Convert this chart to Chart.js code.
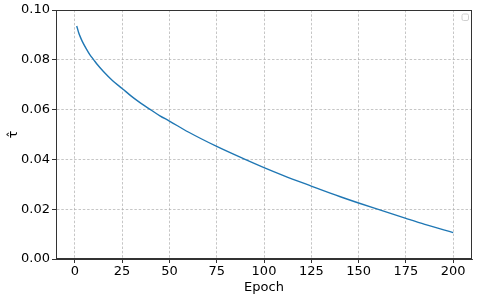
<!DOCTYPE html>
<html>
<head>
<meta charset="utf-8">
<script src="https://cdn.jsdelivr.net/npm/chart.js@4.4.1/dist/chart.umd.min.js"></script>
<style>
  html, body { margin: 0; padding: 0; background: #fff; }
  #wrap { width: 478px; height: 298px; position: relative; }
</style>
</head>
<body>
<div id="wrap"><canvas id="c" width="478" height="298"></canvas></div>
<script>
// Values
const epochs = [1, 2, 3, 4, 6, 8, 10, 12, 15, 20, 25, 30, 35, 40, 45, 50, 60, 75, 90, 100, 110, 125, 140, 150, 160, 175, 185, 200];
const tauHat = [0.0936, 0.0910, 0.0890, 0.0873, 0.0845, 0.0820, 0.0800, 0.0780, 0.0754, 0.0716, 0.0685, 0.0653, 0.0625, 0.0600, 0.0575, 0.0554, 0.0510, 0.0452, 0.0400, 0.0367, 0.0336, 0.0293, 0.0251, 0.0225, 0.0200, 0.0163, 0.0139, 0.0106];
const xTicks = [0, 25, 50, 75, 100, 125, 150, 175, 200];
const yTicks = [0.00, 0.02, 0.04, 0.06, 0.08, 0.10];
const xTitle = 'Epoch';
const yTitle = 'τ\u0302';

const FONT = 'DejaVu Sans';
const gridColor = 'rgba(176,176,176,0.9)';

const frame = {
  id: 'frame',
  afterDraw(chart) {
    const a = chart.chartArea, ctx = chart.ctx;
    ctx.save();
    ctx.strokeStyle = '#333';
    ctx.lineWidth = 1;
    ctx.strokeRect(Math.round(a.left) + 0.5, Math.round(a.top) + 0.5,
                   Math.round(a.right - a.left) - 1, Math.round(a.bottom - a.top) - 1);
    // empty legend frame (upper right)
    const s = 6.5, x = a.right - 10, y = a.top + 4;
    ctx.strokeStyle = '#d0d0d0';
    ctx.fillStyle = 'rgba(255,255,255,0.8)';
    ctx.beginPath();
    if (ctx.roundRect) ctx.roundRect(x, y, s, s, 1.5); else ctx.rect(x, y, s, s);
    ctx.fill();
    ctx.stroke();
    ctx.restore();
  }
};

new Chart(document.getElementById('c'), {
  type: 'line',
  data: {
    datasets: [{
      data: epochs.map((e, i) => ({ x: e, y: tauHat[i] })),
      borderColor: '#1f77b4',
      borderWidth: 1.4,
      pointRadius: 0,
      fill: false,
      cubicInterpolationMode: 'monotone'
    }]
  },
  options: {
    responsive: false,
    animation: false,
    devicePixelRatio: 1,
    layout: { padding: { left: 3, right: 6, top: 10, bottom: 0 } },
    plugins: { legend: { display: false }, tooltip: { enabled: false } },
    scales: {
      x: {
        type: 'linear',
        min: -9.95,
        max: 209.95,
        afterBuildTicks(scale) { scale.ticks = xTicks.map(v => ({ value: v })); },
        afterFit(scale) { scale.height = 39; },
        ticks: {
          font: { family: FONT, size: 13 },
          color: '#000',
          padding: 1,
          maxRotation: 0,
          autoSkip: false,
          callback: v => String(v)
        },
        grid: { color: gridColor, lineWidth: 0.8, tickLength: 4, tickColor: '#333', tickWidth: 1, drawOnChartArea: true },
        border: { display: true, color: '#333', width: 1, dash: [2.5, 1.8] },
        title: { display: true, text: xTitle, font: { family: FONT, size: 13 }, color: '#000', padding: { top: 0, bottom: 3 } }
      },
      y: {
        min: 0,
        max: 0.1,
        afterBuildTicks(scale) { scale.ticks = yTicks.map(v => ({ value: v })); },
        afterFit(scale) { scale.width = 53; },
        ticks: {
          font: { family: FONT, size: 13 },
          color: '#000',
          padding: 2,
          callback: v => Number(v).toFixed(2)
        },
        grid: { color: gridColor, lineWidth: 0.8, tickLength: 4, tickColor: '#333', tickWidth: 1 },
        border: { display: true, color: '#333', width: 1, dash: [2.5, 1.8] },
        title: { display: true, text: yTitle, font: { family: FONT, size: 13 }, color: '#000', padding: { top: 3, bottom: 0 } }
      }
    }
  },
  plugins: [frame]
});
</script>
</body>
</html>
